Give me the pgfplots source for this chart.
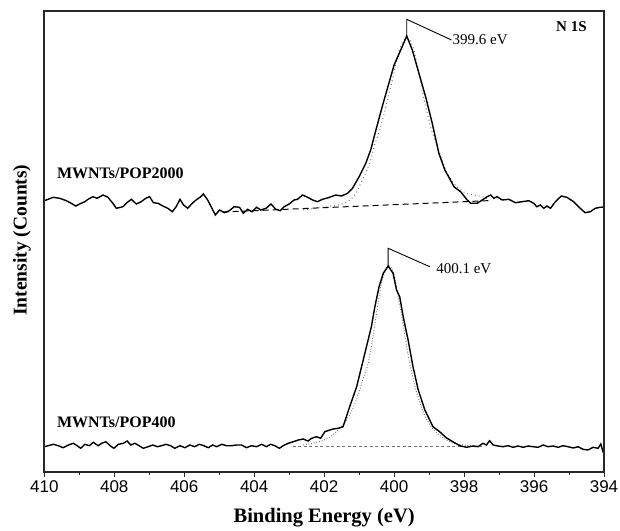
\documentclass[border=0pt]{standalone}
\usepackage{fontspec}
\setmainfont{Liberation Serif}
\setsansfont{Liberation Sans}
\usepackage{pgfplots}
\pgfplotsset{compat=1.18}
\definecolor{fitgray}{HTML}{707070}
\definecolor{framegray}{HTML}{282828}
\begin{document}
\begin{tikzpicture}
\useasboundingbox (-44.3pt,-58pt) rectangle (575.7pt,472pt);
\begin{axis}[
  scale only axis,
  width=559.7pt, height=461pt,
  x dir=reverse,
  xmin=394, xmax=410, ymin=0, ymax=461,
  axis line style={framegray, line width=2pt},
  xtick={394,396,...,410},
  minor x tick num=1,
  xtick pos=bottom,
  tick align=outside,
  major tick length=5pt, minor tick length=3pt,
  every tick/.style={framegray, line width=1pt},
  ytick=\empty,
  /pgf/number format/assume math mode=true,
  /pgf/number format/set thousands separator={},
  xticklabel style={font=\sffamily\fontsize{17}{19}\selectfont, text=black},
  xlabel={Binding Energy (eV)},
  ylabel={Intensity (Counts)},
  xlabel style={font=\bfseries\fontsize{20.5}{23}\selectfont, at={(axis description cs:0.5,-0.0998)}, anchor=center},
  ylabel style={font=\bfseries\fontsize{19.5}{22}\selectfont, at={(axis description cs:-0.0398,0.503)}, anchor=center},
  clip=false,
]
% upper dashed baseline
\addplot[black, line width=1pt, dash pattern=on 6pt off 4pt] coordinates {(404.9,260) (397.2,271.5)};
% upper dotted fit
\addplot[fitgray, line width=1pt, dash pattern=on 0.9pt off 3pt, smooth] coordinates {
(402.6,262) (402.2,264) (401.9,265.5) (401.6,267) (401.3,271) (401.1,278) (400.95,289) (400.8,300) (400.67,312)
(400.55,328) (400.43,340) (400.3,356) (400.17,375) (400.05,392) (399.91,415) (399.77,429) (399.65,434)
(399.55,432) (399.45,424) (399.35,409) (399.25,392) (399.15,373) (399.05,359) (398.95,344) (398.81,330)
(398.65,314) (398.5,300) (398.35,291) (398.2,285) (397.96,279) (397.72,277) (397.48,275.3) (397.3,273)};
% upper spectrum
\addplot[black, line width=1.4pt] coordinates {
(410.0,271.3) (409.89,272.7) (409.75,274.7) (409.56,273.7) (409.37,271.3) (409.23,268.7) (409.10,266)
(408.99,268) (408.84,270.3) (408.75,272.7) (408.61,275.3) (408.49,273.7) (408.32,277) (408.18,274.7)
(408.04,268.7) (407.94,263.7) (407.75,265.3) (407.64,269.3) (407.51,272.7) (407.37,268) (407.23,270.3)
(407.10,273.7) (406.99,275.3) (406.88,269.3) (406.75,268.7) (406.61,266) (406.47,263.7) (406.34,260.3)
(406.23,265.3) (406.12,272.7) (406.02,267) (405.90,263.7) (405.77,268.7) (405.66,272) (405.55,274.7)
(405.45,278) (405.33,272) (405.23,265.3) (405.11,257) (404.99,262) (404.85,259.3) (404.71,261.3)
(404.57,265.3) (404.42,264.7) (404.31,258.7) (404.19,262.7) (404.06,260.3) (403.93,264.7) (403.81,262)
(403.66,263.7) (403.52,268) (403.38,262.7) (403.26,261.3) (403.14,265.3) (403.00,268) (402.86,272)
(402.76,272.7) (402.62,277) (402.47,274.7) (402.33,272) (402.19,270.3) (402.05,272.7) (401.88,274.3)
(401.67,277) (401.5,276) (401.33,278.7) (401.19,283.7) (401.0,295.3) (400.81,308.7) (400.67,322)
(400.52,342) (400.34,365.3) (400.15,388.7) (400.0,407) (399.81,422) (399.64,436) (399.48,422)
(399.29,398.7) (399.10,375.3) (398.91,348.7) (398.72,318.7) (398.55,302) (398.39,292) (398.29,285.3)
(398.10,280.3) (397.91,272) (397.81,268.7) (397.63,268.7) (397.48,272) (397.34,275.3) (397.24,277)
(397.15,273.7) (397.06,275.3) (396.91,272) (396.72,272.7) (396.53,269.3) (396.34,270.3) (396.15,271.3)
(396.01,268.7) (395.92,265.3) (395.82,267) (395.72,263.7) (395.63,266) (395.53,263.7) (395.39,270.3)
(395.22,276) (395.06,274.7) (394.87,270.3) (394.68,263.7) (394.54,259.3) (394.39,260.3) (394.25,263.7)
(394.11,264.7) (394.0,265)};
% lower dashed baseline
\addplot[fitgray, line width=0.8pt, dash pattern=on 3pt off 2.5pt] coordinates {(402.9,25.3) (397.5,25.3)};
% lower dotted fit
\addplot[fitgray, line width=0.9pt, dash pattern=on 0.9pt off 1.8pt, smooth] coordinates {
(402.6,27) (402.3,29) (402.0,32) (401.8,36) (401.6,42) (401.4,50) (401.2,62) (401.0,80) (400.9,92)
(400.74,109) (400.6,136) (400.5,159) (400.36,189) (400.22,203.7) (400.12,206) (400.0,198) (399.89,176)
(399.8,160) (399.69,136) (399.55,108) (399.36,80) (399.12,56) (398.89,43) (398.6,34) (398.3,29)
(398.0,27) (397.6,26)};
% lower spectrum
\addplot[black, line width=1.4pt] coordinates {
(410.0,25.3) (409.89,26.3) (409.74,27.7) (409.6,26.3) (409.46,24.3) (409.31,27) (409.17,28.7) (409.06,26.3)
(408.96,23.7) (408.84,27.7) (408.71,26.3) (408.6,29.7) (408.46,26.3) (408.36,28.7) (408.24,30.3)
(408.12,26.3) (408.01,23.7) (407.88,27.7) (407.74,28.7) (407.63,31) (407.53,27) (407.41,28.7)
(407.29,26.3) (407.17,23.7) (407.03,25.3) (406.90,27) (406.77,25.3) (406.65,26.3) (406.52,27.7)
(406.39,26.3) (406.27,23.7) (406.12,26.3) (405.98,24.3) (405.84,27) (405.70,25.3) (405.57,27.7)
(405.44,26.3) (405.31,24.3) (405.19,27) (405.07,25.3) (404.93,27.7) (404.79,26.3) (404.65,26.3)
(404.50,27) (404.36,27) (404.22,24.3) (404.08,26.3) (403.93,25.3) (403.79,27.7) (403.65,25.3)
(403.53,27.7) (403.41,26.3) (403.28,23.7) (403.17,26.3) (403.03,28.7) (402.88,30.3) (402.74,32)
(402.60,33) (402.46,31) (402.36,33.7) (402.22,35.3) (402.10,33.7) (401.98,40.3) (401.84,42)
(401.74,43) (401.6,43.7) (401.46,45.3) (401.27,65.3) (401.07,85.3) (400.93,105.3) (400.79,125.3)
(400.65,145.3) (400.55,165.3) (400.43,185.3) (400.31,198.7) (400.17,206) (400.03,198.7) (399.93,182)
(399.84,175.3) (399.74,155.3) (399.60,132) (399.46,105.3) (399.31,82) (399.12,62) (398.89,45.3)
(398.69,40) (398.5,34) (398.31,30) (398.12,26.3) (397.93,24.7) (397.74,26) (397.6,25.3) (397.46,28.7)
(397.36,27) (397.27,31.3) (397.17,27) (397.03,26) (396.89,25.3) (396.74,26.3) (396.6,24.7) (396.46,26)
(396.31,24.7) (396.17,26) (396.03,25.3) (395.88,24.7) (395.74,27) (395.6,25.3) (395.46,26) (395.31,24.7)
(395.17,26.3) (395.03,25.3) (394.88,24) (394.74,25.3) (394.6,22.7) (394.46,22) (394.31,24.7)
(394.17,23.7) (394.09,28) (394.03,20.3) (394.0,21)};
% leader lines
\addplot[black, line width=0.9pt] coordinates {(399.64,436) (399.64,452.7) (398.36,432)};
\addplot[black, line width=0.9pt] coordinates {(400.17,206) (400.17,223.7) (398.98,205.3)};
% labels
\node[anchor=west, font=\fontsize{15}{17}\selectfont, inner sep=0pt] at (axis cs:398.33,432) {399.6 eV};
\node[anchor=west, font=\fontsize{15}{17}\selectfont, inner sep=0pt] at (axis cs:398.8,203) {400.1 eV};
\node[anchor=east, font=\bfseries\fontsize{15}{17}\selectfont, inner sep=0pt] at (axis cs:394.49,445) {N 1S};
\node[anchor=west, font=\bfseries\fontsize{16}{18}\selectfont, inner sep=0pt] at (axis cs:409.64,298.7) {MWNTs/POP2000};
\node[anchor=west, font=\bfseries\fontsize{16}{18}\selectfont, inner sep=0pt] at (axis cs:409.64,50) {MWNTs/POP400};
\end{axis}
\draw[framegray, line width=2pt] (0pt,0pt) rectangle (559.7pt,461pt);
\end{tikzpicture}
\end{document}
